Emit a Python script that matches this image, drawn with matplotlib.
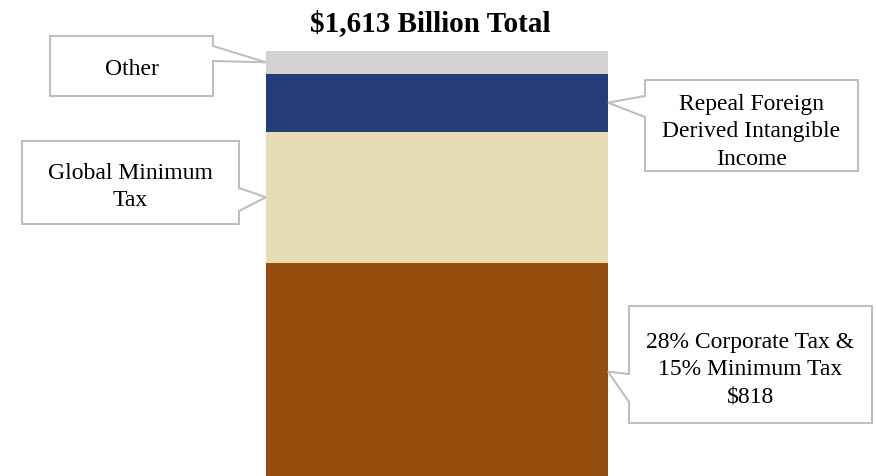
import numpy as np
import matplotlib
matplotlib.use("Agg")
import matplotlib.pyplot as plt
from matplotlib.patches import Polygon
from matplotlib.transforms import Affine2D

# Revenue components, bottom to top ($ billions)
labels = [
    "28% Corporate Tax &\n15% Minimum Tax\n$818",
    "Global Minimum\nTax",
    "Repeal Foreign\nDerived Intangible\nIncome",
    "Other",
]
values = [818, 492, 218, 85]
colors = ["#954D0E", "#E8DCB5", "#243D7A", "#D3D1D2"]
total = 1613
title = "$1,613 Billion Total"

W, H = 876, 477
plt.rcParams["font.family"] = ["Liberation Serif", "DejaVu Serif"]

fig = plt.figure(figsize=(W / 100, H / 100), dpi=100)
ax = fig.add_axes([266 / W, 1 - 481.6 / H, 342 / W, 429.6 / H])
bottoms = np.concatenate([[0], np.cumsum(values[:-1])])
ax.bar(0, values, bottom=bottoms, width=1.0, color=colors, linewidth=0)
ax.set_xlim(-0.5, 0.5)
ax.set_ylim(0, total)
ax.axis("off")

# pixel coordinates measured from the top-left corner
pix = Affine2D().scale(1, -1).translate(0, H)

fig.text(430, 24, title, transform=pix, ha="center", va="center",
         fontsize=21, fontweight="bold")

# callout boxes: (left, top, right, bottom), side of the bar,
# wedge attach points (y1, y2), text centre y
callouts = [
    ((629, 307, 872, 424), "right", (375, 403), 370),
    ((22, 142, 239, 225), "left", (189, 212), 187),
    ((645, 81, 858, 172), "right", (97, 118), 132),
    ((50, 37, 213, 97), "left", (47, 62), 70),
]

for (box, side, (y1, y2), ty_text), lab, b, v in zip(callouts, labels, bottoms, values):
    L, T, R, B = box
    xd = 0.5 if side == "right" else -0.5
    tx, ty = ax.transData.transform((xd, b + v / 2))
    tip = (tx, H - ty)
    if side == "left":
        verts = [(L, T), (R, T), (R, y1), tip, (R, y2), (R, B), (L, B)]
    else:
        verts = [(L, T), (R, T), (R, B), (L, B), (L, y2), tip, (L, y1)]
    poly = Polygon(verts, closed=True, facecolor="white", edgecolor="#BFBFBF",
                   linewidth=1.5, transform=pix, joinstyle="miter")
    fig.add_artist(poly)
    fig.text((L + R) / 2, ty_text, lab, transform=pix, ha="center",
             va="center", fontsize=17, linespacing=1.38, multialignment="center")

fig.savefig("out.png", dpi=100, facecolor="white")
